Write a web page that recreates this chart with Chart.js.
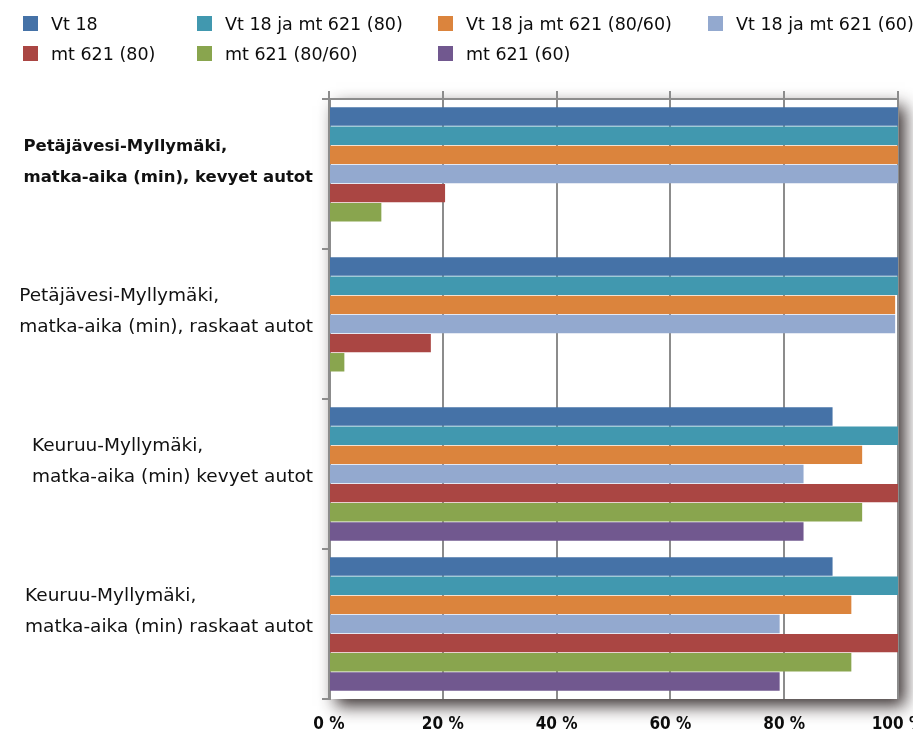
<!DOCTYPE html>
<html>
<head>
<meta charset="utf-8">
<script src="https://cdn.jsdelivr.net/npm/chart.js@4"></script>
<style>
  html, body { margin: 0; padding: 0; background: #fff; overflow: hidden; }
  #wrap { position: relative; width: 913px; height: 738px; overflow: hidden; }
  #chart { position: absolute; left: 0; top: 0; }
  .legend-item { position: absolute; display: flex; align-items: center; font-family: "DejaVu Sans", sans-serif; font-size: 17.5px; color: #0c0c0c; white-space: nowrap; }
  .legend-item .sw { width: 15px; height: 15px; margin-right: 13px; }
</style>
</head>
<body>
<div id="wrap">
  <canvas id="chart" width="940" height="738"></canvas>
</div>
<script>
const categories = [
    ['Petäjävesi-Myllymäki,', 'matka-aika (min), kevyet autot'],
    ['Petäjävesi-Myllymäki,', 'matka-aika (min), raskaat autot'],
    ['Keuruu-Myllymäki,', 'matka-aika (min) kevyet autot'],
    ['Keuruu-Myllymäki,', 'matka-aika (min) raskaat autot']
];
const boldCategory = [true, false, false, false];

const seriesNames = [
    'Vt 18',
    'Vt 18 ja mt 621 (80)',
    'Vt 18 ja mt 621 (80/60)',
    'Vt 18 ja mt 621 (60)',
    'mt 621 (80)',
    'mt 621 (80/60)',
    'mt 621 (60)'
];
const vt18 = [100, 100, 88.5, 88.5];
const vt18mt621_80 = [100, 100, 100, 100];
const vt18mt621_8060 = [100, 99.5, 93.7, 91.8];
const vt18mt621_60 = [100, 99.5, 83.4, 79.2];
const mt621_80 = [20.4, 17.9, 100, 100];
const mt621_8060 = [9.2, 2.7, 93.7, 91.8];
const mt621_60 = [null, null, 83.4, 79.2];
const seriesValues = [vt18, vt18mt621_80, vt18mt621_8060, vt18mt621_60, mt621_80, mt621_8060, mt621_60];

const xTicks = [0, 20, 40, 60, 80, 100];

const seriesColors = ['#4572a7', '#4198af', '#db843d', '#93a9cf', '#aa4643', '#89a54e', '#71588f'];
const gridGray = '#8c8c8c';

// legend (fixed columns like the original)
const legendSpots = [[23, 16], [197, 16], [438, 16], [708, 16], [23, 46], [197, 46], [438, 46]];
const wrap = document.getElementById('wrap');
seriesNames.forEach((name, i) => {
    const item = document.createElement('div');
    item.className = 'legend-item';
    item.style.left = legendSpots[i][0] + 'px';
    item.style.top = (legendSpots[i][1] - 4) + 'px';
    item.style.height = '23px';
    const sw = document.createElement('span');
    sw.className = 'sw';
    sw.style.background = seriesColors[i];
    const txt = document.createElement('span');
    txt.textContent = name;
    item.appendChild(sw);
    item.appendChild(txt);
    wrap.appendChild(item);
});

// white plot panel with drop shadow
const panelShadow = {
    id: 'panelShadow',
    beforeDraw(chart) {
        const { ctx, chartArea: a } = chart;
        ctx.save();
        ctx.shadowColor = 'rgba(35, 25, 25, 0.9)';
        ctx.shadowBlur = 16;
        ctx.shadowOffsetX = 7;
        ctx.shadowOffsetY = 7;
        ctx.fillStyle = '#fff';
        ctx.fillRect(a.left, a.top, a.right - a.left, a.bottom - a.top);
        ctx.restore();
    }
};

// category labels: block right-aligned, lines left-aligned
const categoryLabels = {
    id: 'categoryLabels',
    afterDraw(chart) {
        const { ctx } = chart;
        const y = chart.scales.y;
        const rightEdge = 313;
        const lineGap = 31;
        ctx.save();
        ctx.fillStyle = '#111';
        ctx.textBaseline = 'middle';
        ctx.textAlign = 'left';
        categories.forEach((lines, i) => {
            ctx.font = (boldCategory[i] ? 'bold 16.5px' : '18.5px') + ' "DejaVu Sans", sans-serif';
            const w = Math.max(...lines.map(l => ctx.measureText(l).width));
            const cy = y.getPixelForValue(i) - 12;
            lines.forEach((l, k) => {
                ctx.fillText(l, rightEdge - w, cy + (k - (lines.length - 1) / 2) * lineGap);
            });
        });
        ctx.restore();
    }
};

new Chart(document.getElementById('chart'), {
    type: 'bar',
    data: {
        labels: categories,
        datasets: seriesNames.map((name, i) => ({
            label: name,
            data: seriesValues[i],
            backgroundColor: seriesColors[i],
            borderWidth: 0,
            categoryPercentage: 0.893,
            barPercentage: 0.965
        }))
    },
    options: {
        indexAxis: 'y',
        responsive: false,
        animation: false,
        layout: { padding: { left: 0, right: 42, top: 91, bottom: 0 } },
        plugins: {
            legend: { display: false },
            tooltip: { enabled: false }
        },
        scales: {
            x: {
                position: 'bottom',
                min: 0,
                max: 100,
                afterBuildTicks(scale) { scale.ticks = xTicks.map(v => ({ value: v })); },
                afterFit(scale) { scale.height = 39; },
                grid: { color: gridGray, lineWidth: 2, drawTicks: false },
                border: { display: false },
                ticks: {
                    padding: 15,
                    color: '#0c0c0c',
                    font: { family: '"DejaVu Sans Condensed", sans-serif', size: 17, weight: 'bold' },
                    callback: v => v + ' %'
                }
            },
            xTop: {
                type: 'linear',
                position: 'top',
                min: 0,
                max: 100,
                afterBuildTicks(scale) { scale.ticks = xTicks.map(v => ({ value: v })); },
                afterFit(scale) { scale.height = 8; },
                grid: { color: gridGray, lineWidth: 2, drawOnChartArea: false, tickLength: 8 },
                border: { color: gridGray, width: 2 },
                ticks: { display: false }
            },
            y: {
                position: 'left',
                afterFit(scale) { scale.width = 329; },
                grid: { offset: true, color: gridGray, lineWidth: 2, drawOnChartArea: false, tickLength: 7 },
                border: { color: gridGray, width: 3 },
                ticks: { display: false }
            }
        }
    },
    plugins: [panelShadow, categoryLabels]
});
</script>
</body>
</html>
